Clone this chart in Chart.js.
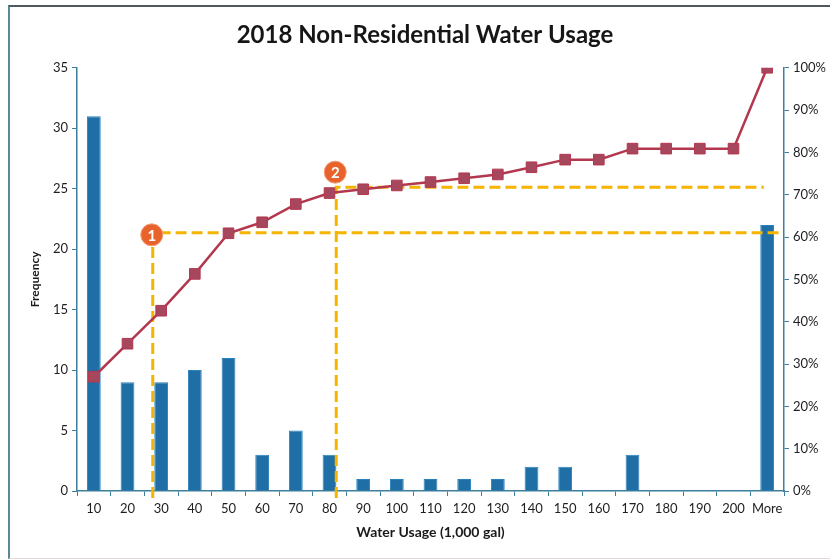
<!DOCTYPE html>
<html>
<head>
<meta charset="utf-8">
<title>2018 Non-Residential Water Usage</title>
<script src="https://cdn.jsdelivr.net/npm/chart.js@4.4.1/dist/chart.umd.min.js"></script>
<style>
  html, body { margin: 0; padding: 0; background: #fff; }
  #wrap { position: relative; width: 830px; height: 560px; overflow: hidden; }
  #frame {
    position: absolute; left: 8px; top: 5px; width: 840px; height: 551px;
    border-top: 2px solid #4f5a60; border-left: 2px solid #5c8796;
    border-bottom: 1px solid #e6d6d8; pointer-events: none;
  }
  canvas { position: absolute; left: 0; top: 0; }
</style>
</head>
<body>
<div id="wrap">
  <canvas id="chart" width="830" height="560"></canvas>
  <div id="frame"></div>
</div>
<script>
// Usage bins (thousand gallons)
const bins = ['10', '20', '30', '40', '50', '60', '70', '80', '90', '100',
              '110', '120', '130', '140', '150', '160', '170', '180', '190', '200', 'More'];

// Number of accounts in each bin
const frequency = [31, 9, 9, 10, 11, 3, 5, 3, 1, 1, 1, 1, 1, 2, 2, 0, 3, 0, 0, 0, 22];

// Cumulative share of accounts (%)
const cumulativePct = [27.0, 34.8, 42.6, 51.3, 60.9, 63.5, 67.8, 70.4, 71.3, 72.2,
                       73.0, 73.9, 74.8, 76.5, 78.3, 78.3, 80.9, 80.9, 80.9, 80.9, 100];

// Axis tick values
const freqTicks = [0, 5, 10, 15, 20, 25, 30, 35];
const pctTicks = [0, 10, 20, 30, 40, 50, 60, 70, 80, 90, 100];

// Reference guides: where a usage threshold meets its cumulative share
const guideLabels = ['1', '2'];
const guideBin = [1.75, 7.2];      // position along the bin axis
const guidePct = [61, 71.8];       // cumulative share reached
const guideEndBin = [20.35, 19.9]; // where the horizontal guide stops

const FONT = 'Lato, "Open Sans", sans-serif';
const axisColor = '#3d7f9c';

const guidesPlugin = {
  id: 'guides',
  afterDatasetDraw(chart, args) {
    if (args.index !== 0) return;
    const ctx = chart.ctx;
    const x = chart.scales.x, y1 = chart.scales.y1;
    const bottom = chart.chartArea.bottom;
    ctx.save();
    ctx.strokeStyle = '#f4b400';
    ctx.lineWidth = 3;
    ctx.setLineDash([11, 5]);
    guideLabels.forEach((lab, i) => {
      const gx = x.getPixelForValue(guideBin[i]);
      const gy = y1.getPixelForValue(guidePct[i]);
      const ex = x.getPixelForValue(guideEndBin[i]);
      ctx.beginPath();
      ctx.moveTo(gx, bottom + 7);
      ctx.lineTo(gx, gy);
      ctx.lineTo(ex, gy);
      ctx.stroke();
    });
    ctx.setLineDash([]);
    guideLabels.forEach((lab, i) => {
      const gx = x.getPixelForValue(guideBin[i]);
      const gy = y1.getPixelForValue(guidePct[i]);
      const cy = i === 0 ? gy + 2 : gy - 15;
      ctx.beginPath();
      ctx.arc(gx - 1, cy, 11, 0, Math.PI * 2);
      ctx.fillStyle = '#e8622b';
      ctx.fill();
      ctx.lineWidth = 1;
      ctx.strokeStyle = '#f3a07a';
      ctx.stroke();
      ctx.fillStyle = '#ffffff';
      ctx.font = 'bold 15px ' + FONT;
      ctx.textAlign = 'center';
      ctx.textBaseline = 'middle';
      ctx.fillText(lab, gx - 1, cy + 1);
    });
    ctx.restore();
  }
};

new Chart(document.getElementById('chart'), {
  data: {
    labels: bins,
    datasets: [
      {
        type: 'bar',
        label: 'Frequency',
        data: frequency,
        yAxisID: 'y',
        backgroundColor: '#1f6ea6',
        borderColor: '#2a82bd',
        borderWidth: 1,
        barPercentage: 0.41,
        categoryPercentage: 1,
        order: 1
      },
      {
        type: 'line',
        label: 'Cumulative %',
        data: cumulativePct,
        yAxisID: 'y1',
        borderColor: '#b3384f',
        borderWidth: 2.5,
        pointStyle: 'rect',
        pointRadius: 7.5,
        pointBackgroundColor: '#a7475e',
        pointBorderColor: '#b3384f',
        pointBorderWidth: 1,
        tension: 0,
        order: 0
      }
    ]
  },
  options: {
    responsive: false,
    animation: false,
    events: [],
    layout: { padding: { left: 20, top: 0, right: 0, bottom: 0 } },
    plugins: {
      legend: { display: false },
      tooltip: { enabled: false },
      title: {
        display: true,
        text: '2018 Non-Residential Water Usage',
        color: '#161616',
        font: { family: FONT, size: 24, weight: 'bold' },
        padding: { top: 21, bottom: 18 }
      }
    },
    scales: {
      x: {
        type: 'category',
        grid: { display: true, drawOnChartArea: false, drawTicks: true, tickLength: 5, color: axisColor, offset: true },
        border: { display: true, color: axisColor, width: 1.5 },
        ticks: { color: '#1e1e1e', font: { family: FONT, size: 13 }, maxRotation: 0, autoSkip: false, padding: 5 },
        title: {
          display: true,
          text: 'Water Usage (1,000 gal)',
          color: '#1a1a1a',
          font: { family: FONT, size: 14, weight: 'bold' },
          padding: { top: 4, bottom: 19 }
        },
        afterFit(s) { s.height = 69; }
      },
      y: {
        position: 'left',
        min: 0, max: 35,
        afterBuildTicks(s) { s.ticks = freqTicks.map(v => ({ value: v })); },
        grid: { display: true, drawOnChartArea: false, drawTicks: true, tickLength: 5, color: axisColor },
        border: { display: true, color: axisColor, width: 1.5 },
        ticks: { color: '#1e1e1e', font: { family: FONT, size: 13 }, padding: 4 },
        title: {
          display: true,
          text: 'Frequency',
          color: '#1a1a1a',
          font: { family: FONT, size: 12, weight: 'bold' },
          padding: { top: 8, bottom: 4 }
        },
        afterFit(s) { s.width = 57; }
      },
      y1: {
        position: 'right',
        min: 0, max: 100,
        afterBuildTicks(s) { s.ticks = pctTicks.map(v => ({ value: v })); },
        grid: { display: true, drawOnChartArea: false, drawTicks: true, tickLength: 5, color: axisColor },
        border: { display: true, color: axisColor, width: 1.5 },
        ticks: { color: '#1e1e1e', font: { family: FONT, size: 13 }, padding: 4, callback: v => v + '%' },
        afterFit(s) { s.width = 46; }
      }
    }
  },
  plugins: [guidesPlugin]
});
</script>
</body>
</html>
